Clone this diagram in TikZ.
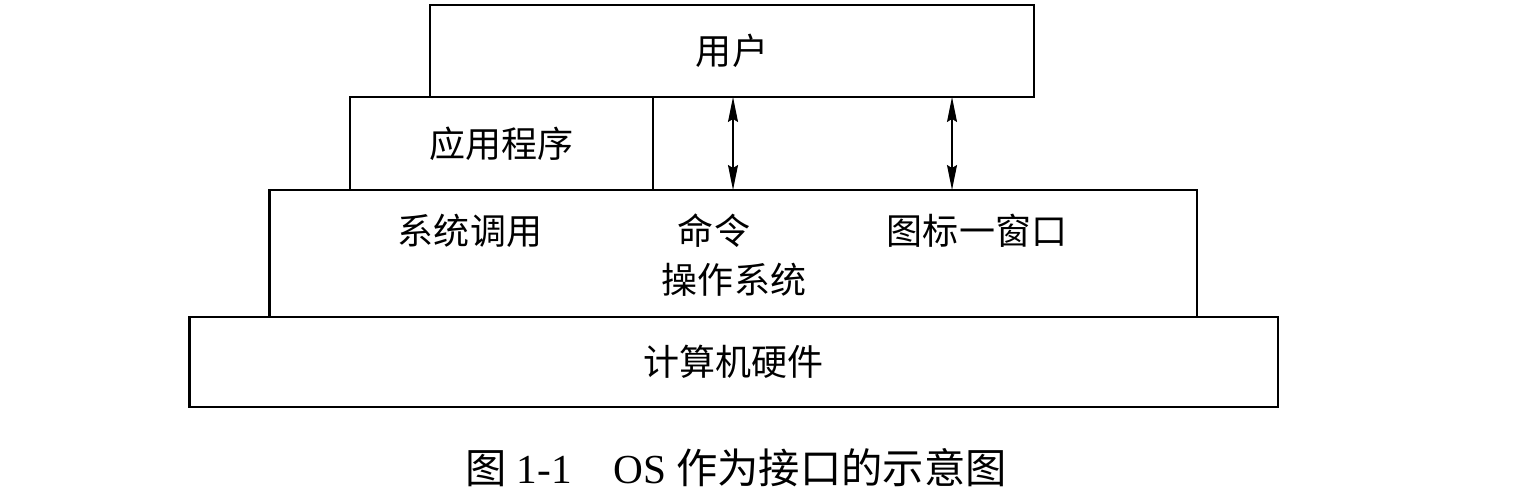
\documentclass[tikz,border=0pt]{standalone}
\usepackage{fontspec}
\setmainfont{Liberation Serif}
\newfontfamily\cjk{Noto Sans CJK SC}
\usetikzlibrary{arrows.meta}
\begin{document}
\begin{tikzpicture}[x=0.02cm,y=-0.02cm,line width=1.6pt]
      \tikzstyle{every node}=[inner sep=0pt,outer sep=0pt,font=\cjk\fontsize{20.5}{24}\selectfont];
      \tikzstyle{layer}=[draw,rectangle];
      \tikzstyle{dbl}=[line width=0.8pt,{Stealth[length=0.5cm,width=0.2cm,inset=0.06cm]}-{Stealth[length=0.5cm,width=0.2cm,inset=0.06cm]}];
      \useasboundingbox (0,0) rectangle (1520,502);

      \node[layer,minimum width=12.08cm,minimum height=1.84cm] (user) at (732,51) {用户};
      \node[layer,minimum width=6.06cm,minimum height=1.86cm] (app) at (501.5,143.5) {应用程序};
      \node[layer,minimum width=18.56cm,minimum height=2.54cm] (os) at (733,253.5) {};
      \node[layer,minimum width=21.78cm,minimum height=1.80cm] (hw) at (733.5,362) {计算机硬件};

      \node (syscall) at (470,231) {系统调用};
      \node (cmd) at (714,231) {命令};
      \node (gui) at (977,231) {图标一窗口};
      \node (osname) at (734,280) {操作系统};

      \coordinate (c1) at (733,0);
      \coordinate (c2) at (952,0);
      \draw[dbl] (user.south -| c1) -- (os.north -| c1);
      \draw[dbl] (user.south -| c2) -- (os.north -| c2);

      \node[font=\fontsize{23.5}{28}\selectfont] (caption) at (736,468)
        {{\cjk 图}~{\rmfamily 1-1}\quad{\rmfamily OS}~{\cjk 作为接口的示意图}};
    \end{tikzpicture}
\end{document}
